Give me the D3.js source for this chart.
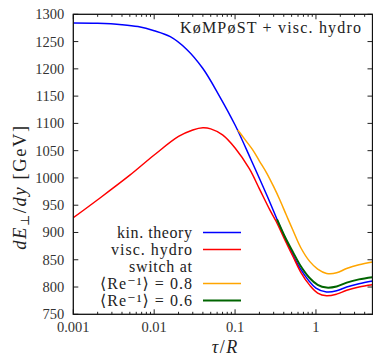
<!DOCTYPE html>
<html><head><meta charset="utf-8">
<script src="https://cdn.jsdelivr.net/npm/d3@7"></script>
<style>
html,body{margin:0;padding:0;background:#fff;}
</style></head>
<body><svg id="c" width="373" height="357" font-family="'Liberation Serif','Times New Roman','DejaVu Serif',serif"></svg>
<script>
// ---- data ----
const tauKin = [0.001,0.002,0.004,0.0063,0.01,0.0158,0.0251,0.0398,0.063,0.1,0.158,0.251,0.398,0.631,1.0,1.35,1.8,2.4,3.4,5];
const eKin   = [1284,1283.5,1281,1277.5,1270,1259,1236,1201,1152,1097,1033,966,896,835,798,791,793,800,806,811];
const tauHydro = [0.001,0.002,0.005,0.01,0.02,0.03,0.04,0.05,0.07,0.1,0.15,0.2,0.27,0.32,0.42,0.52,0.65,0.84,1.05,1.35,1.8,2.4,3.4,5];
const eHydro   = [927,960,1005,1042,1076,1088,1092,1090,1079,1055,1017,980,941,921,884,856,827,803,789,784,787,794,800,804];
const tauSw08 = [0.108,0.13,0.166,0.2,0.246,0.3,0.357,0.43,0.516,0.65,0.836,1.05,1.355,1.8,2.39,3.4,5];
const eSw08   = [1088,1072,1051,1031,1009,984,960,932,905,872,847,833,825,826,834,841,846];
const tauSw06 = [0.33,0.42,0.52,0.65,0.84,1.05,1.35,1.8,2.4,3.4,5];
const eSw06   = [924,890,864,838,816,804,799,801,808,814,818];
const yTicks = [750,800,850,900,950,1000,1050,1100,1150,1200,1250,1300];
const xTicks = [0.001,0.01,0.1,1];
const xTickLabels = ["0.001","0.01","0.1","1"];
const seriesNames = ["kin. theory","visc. hydro"];
const switchNames = ["0.8","0.6"];
const colors = ["#0000ff","#ff0000","#ffa500","#006400"];

// ---- layout ----
const L = 73.3, R = 372.5, T = 14.3, B = 314.3;
const x = d3.scaleLog().domain([0.001,5]).range([L,R]);
const y = d3.scaleLinear().domain([750,1300]).range([B,T]);
const svg = d3.select("#c");

const line = d3.line().x(d=>x(d[0])).y(d=>y(d[1])).curve(d3.curveCatmullRom.alpha(0.5));
const series = [
  {t:tauKin,e:eKin,c:colors[0],w:1.5},
  {t:tauHydro,e:eHydro,c:colors[1],w:1.5},
  {t:tauSw08,e:eSw08,c:colors[2],w:1.5},
  {t:tauSw06,e:eSw06,c:colors[3],w:2}
];
svg.append("clipPath").attr("id","pc").append("rect")
  .attr("x",L).attr("y",T).attr("width",R-L).attr("height",B-T);
const g = svg.append("g").attr("clip-path","url(#pc)");
series.forEach(s=>{
  g.append("path").datum(s.t.map((t,i)=>[t,s.e[i]]))
   .attr("d",line).attr("fill","none").attr("stroke",s.c).attr("stroke-width",s.w);
});

// ---- axes (ticks inward) ----
const minor = [];
for (let d=0.001; d<5; d*=10) for (let k=2;k<=9;k++){ if (d*k<=5) minor.push(d*k); }
const ax = svg.append("g").attr("stroke","#222").attr("stroke-width",1);
xTicks.forEach(t=>{
  ax.append("line").attr("x1",x(t)).attr("x2",x(t)).attr("y1",B).attr("y2",B-5);
  ax.append("line").attr("x1",x(t)).attr("x2",x(t)).attr("y1",T).attr("y2",T+5);
});
minor.forEach(t=>{
  ax.append("line").attr("x1",x(t)).attr("x2",x(t)).attr("y1",B).attr("y2",B-2.5);
  ax.append("line").attr("x1",x(t)).attr("x2",x(t)).attr("y1",T).attr("y2",T+2.5);
});
yTicks.forEach(v=>{
  ax.append("line").attr("x1",L).attr("x2",L+5).attr("y1",y(v)).attr("y2",y(v));
  ax.append("line").attr("x1",R).attr("x2",R-5).attr("y1",y(v)).attr("y2",y(v));
});
svg.append("rect").attr("x",L).attr("y",T).attr("width",R-L).attr("height",B-T)
  .attr("fill","none").attr("stroke","#111").attr("stroke-width",1.3);

// tick labels
yTicks.forEach(v=>{
  svg.append("text").attr("x",L-9).attr("y",y(v)+5).attr("text-anchor","end")
    .attr("font-size",14.5).attr("fill","#333").text(v);
});
xTicks.forEach((t,i)=>{
  svg.append("text").attr("x",x(t)).attr("y",332).attr("text-anchor","middle")
    .attr("font-size",14.5).attr("fill","#333").text(xTickLabels[i]);
});

// axis titles
const xl = svg.append("text").attr("x",224.5).attr("y",353).attr("text-anchor","middle")
  .attr("font-size",18).attr("fill","#222");
xl.append("tspan").attr("font-style","italic").text("τ");
xl.append("tspan").attr("dx",1.5).text("/");
xl.append("tspan").attr("font-style","italic").attr("dx",1.5).text("R");

const yl = svg.append("text").attr("transform","translate(26,187) rotate(-90)")
  .attr("text-anchor","middle").attr("font-size",18.5).attr("letter-spacing",1.6).attr("fill","#222");
yl.append("tspan").attr("font-style","italic").text("dE");
yl.append("tspan").attr("font-size",12).attr("dy",3).text("⊥");
yl.append("tspan").attr("dy",-3).text("/");
yl.append("tspan").attr("font-style","italic").text("dy");
yl.append("tspan").text(" [GeV]");

// title
svg.append("text").attr("x",361).attr("y",33).attr("text-anchor","end")
  .attr("font-size",16).attr("fill","#222").attr("textLength",181).attr("lengthAdjust","spacing")
  .text("KøMPøST + visc. hydro");

// legend
const lx = 192, ly0 = 232.5, dy = 17;
const rows = [
  {txt:seriesNames[0], c:colors[0], w:75},
  {txt:seriesNames[1], c:colors[1], w:81},
  {txt:"switch at", c:null, w:63},
  {txt:"⟨Re⁻¹⟩ = "+switchNames[0], c:colors[2], w:92},
  {txt:"⟨Re⁻¹⟩ = "+switchNames[1], c:colors[3], w:92}
];
rows.forEach((r,i)=>{
  const yy = ly0 + i*dy;
  svg.append("text").attr("x",lx).attr("y",yy+5).attr("text-anchor","end")
    .attr("font-size",16).attr("fill","#222").attr("textLength",r.w).attr("lengthAdjust","spacing").text(r.txt);
  if (r.c) svg.append("line").attr("x1",203).attr("x2",241).attr("y1",yy).attr("y2",yy)
    .attr("stroke",r.c).attr("stroke-width",i===4?2:1.5);
});
</script></body></html>
